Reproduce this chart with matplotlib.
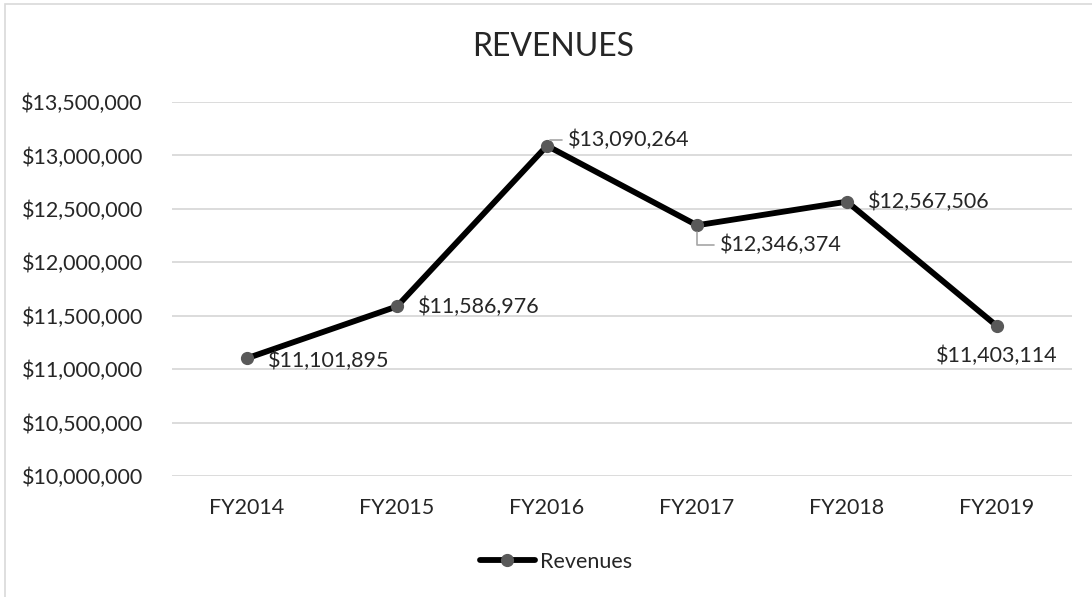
import matplotlib
matplotlib.use("Agg")
import matplotlib.pyplot as plt
from matplotlib.patches import Rectangle
from matplotlib.ticker import FuncFormatter

plt.rcParams["font.family"] = ["Lato", "DejaVu Sans"]

years = ["FY2014", "FY2015", "FY2016", "FY2017", "FY2018", "FY2019"]
revenues = [11101895, 11586976, 13090264, 12346374, 12567506, 11403114]
# label offsets in pixels (dx, dy) and alignment per point
label_offsets = [(21, -3), (21, 0), (21, 6), (23, -20), (21, 0), (0, -30)]
label_ha = ["left", "left", "left", "left", "left", "center"]
leaders = [False, False, True, True, False, False]

W, H = 1092, 597
fs = 15.5
fig = plt.figure(figsize=(W / 100, H / 100), dpi=100)
ax = fig.add_axes([172 / W, 1 - 476 / H, 900 / W, 374 / H])

# chart frame (only left/top edges fall inside the picture)
fig.patches.append(Rectangle((5 / W, -0.2), 1.2, 1.2 - 4 / H, transform=fig.transFigure,
                             fill=False, edgecolor="#d9d9d9", linewidth=1.2))

x = list(range(len(years)))
line, = ax.plot(x, revenues, color="black", linewidth=4.2, marker="o", markersize=8.5,
                markerfacecolor="#595959", markeredgecolor="#595959", label="Revenues",
                solid_capstyle="round", zorder=3)

for xi, val, (dx, dy), ha, lead in zip(x, revenues, label_offsets, label_ha, leaders):
    arrow = None
    if lead:
        arrow = dict(arrowstyle="-", color="#a6a6a6", linewidth=1.2, shrinkA=2, shrinkB=5,
                     relpos=(0, 0.5), connectionstyle="angle,angleA=0,angleB=90,rad=0")
    ax.annotate(f"${val:,.0f}", xy=(xi, val), xytext=(dx, dy), textcoords="offset pixels",
                ha=ha, va="center", fontsize=fs, color="#262626", arrowprops=arrow, zorder=4)

ax.set_xlim(-0.5, len(years) - 0.5)
ax.set_ylim(10000000, 13500000)
ax.set_yticks([10000000 + 500000 * i for i in range(8)])
ax.yaxis.set_major_formatter(FuncFormatter(lambda v, _: f"${v:,.0f}"))
ax.set_xticks(x)
ax.set_xticklabels(years)
ax.tick_params(axis="both", length=0, labelsize=fs, colors="#404040", labelcolor="#262626")
ax.tick_params(axis="y", pad=21)
ax.tick_params(axis="x", pad=16)
ax.grid(True, axis="y", color="#d9d9d9", linewidth=1.3)
ax.set_axisbelow(True)
for s in ax.spines.values():
    s.set_visible(False)

fig.text(553 / W, 1 - 47 / H, "REVENUES", ha="center", va="center", fontsize=23, color="#262626")

fig.legend(handles=[line], loc="center", bbox_to_anchor=(556 / W, 1 - 562 / H), frameon=False,
           fontsize=fs, handlelength=2.55, handletextpad=0.25, labelcolor="#262626")

fig.savefig("out.png", dpi=100)
